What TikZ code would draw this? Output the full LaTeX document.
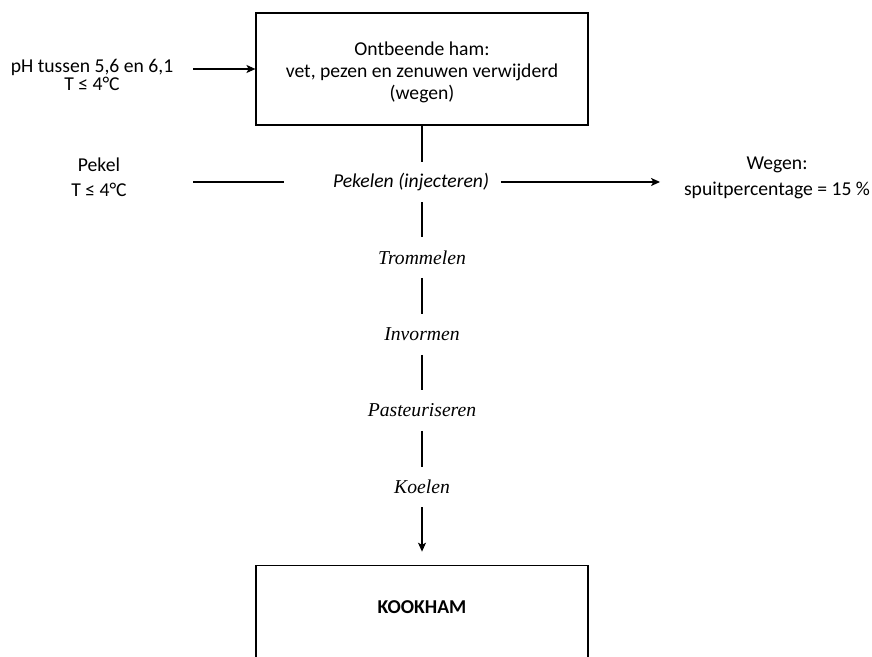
\documentclass[tikz,border=0pt]{standalone}
\usepackage{fontspec}
\setmainfont{Carlito}
\newfontfamily\tnr{Liberation Serif}
\usetikzlibrary{arrows.meta}
\newcommand\mytightls{\lineskiplimit-5pt\relax}
\begin{document}
\begin{tikzpicture}[x=0.56pt,y=-0.56pt,
  boxnode/.style={draw, line width=0.7pt, minimum width=185.9pt, inner sep=0pt, align=center},
  sidetext/.style={align=center, inner sep=0pt},
  stepnode/.style={font=\tnr\itshape\fontsize{11}{13}\selectfont, inner xsep=1pt, inner ysep=0pt, minimum height=22.4pt},
  conn/.style={line width=0.6pt},
  arr/.style={conn, -{Stealth[length=5pt, width=4.5pt, inset=1.2pt]}}]
\useasboundingbox (0,0) rectangle (872,657);
\clip (0,0) rectangle (872,657);
% nodes
\node[boxnode, minimum height=62.7pt, text height=35.5pt, font=\fontsize{11}{12.2}\selectfont] (box1) at (422,69)
  {Ontbeende ham:\\vet, pezen en zenuwen verwijderd\\(wegen)};
\node[sidetext, font=\fontsize{11}{10.4}\selectfont\mytightls] (ph) at (92,75)
  {pH tussen 5,6 en 6,1\\T ≤ 4°C};
\node[sidetext, font=\fontsize{11}{14}\selectfont] (pekel) at (99,177)
  {Pekel\\T ≤ 4°C};
\node[stepnode, font=\fontsize{11}{13}\selectfont\itshape] (pekelen) at (411,182) {Pekelen (injecteren)};
\node[sidetext, font=\fontsize{11}{14.5}\selectfont] (wegen) at (777,178)
  {Wegen:\\spuitpercentage = 15 \%};
\node[stepnode] (trom) at (422,257.5) {Trommelen};
\node[stepnode] (invorm) at (422,334.5) {Invormen};
\node[stepnode] (paste) at (422,410.5) {Pasteuriseren};
\node[stepnode] (koel) at (422,487) {Koelen};
\node[boxnode, anchor=north, minimum height=120pt] (kookbox) at (422,565) {};
\node[font=\bfseries\fontsize{11}{13}\selectfont, inner sep=0pt] (kook) at (422,607) {KOOKHAM};
% free ends
\coordinate (phout) at (193,69);
\coordinate (pekelout) at (193,182);
\coordinate (wegin) at (660,182);
% connectors
\draw[arr] (phout) -- (box1.west |- phout);
\draw[conn, shorten >=26pt] (pekelout) -- (pekelen.west);
\draw[arr, shorten <=5.5pt] (pekelen.east) -- (wegin);
\draw[conn] (box1.south -| 422,0) -- (pekelen.north -| 422,0);
\draw[conn] (pekelen.south -| 422,0) -- (trom.north);
\draw[conn] (trom) -- (invorm);
\draw[conn] (invorm) -- (paste);
\draw[conn] (paste) -- (koel);
\draw[arr, shorten >=7.5pt] (koel) -- (kookbox);
\end{tikzpicture}
\end{document}
